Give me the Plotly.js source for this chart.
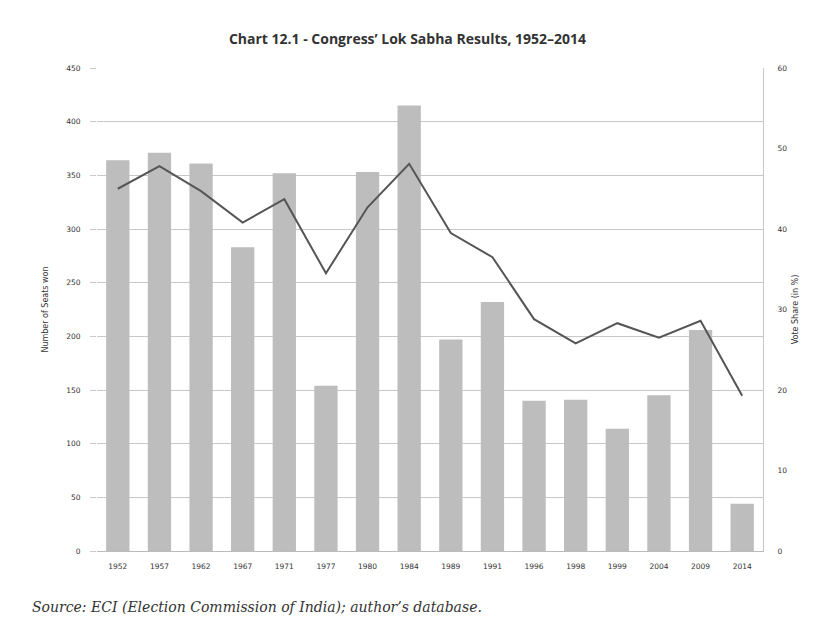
<!DOCTYPE html>
<html>
<head>
<meta charset="utf-8">
<script src="https://cdn.plot.ly/plotly-3.0.1.min.js"></script>
<style>
html,body{margin:0;padding:0;background:#fff;}
#chart{width:815px;height:644px;}
</style>
</head>
<body>
<div id="chart"></div>
<script>
const years = ["1952","1957","1962","1967","1971","1977","1980","1984","1989","1991","1996","1998","1999","2004","2009","2014"];
const seatsWon = [364, 371, 361, 283, 352, 154, 353, 415, 197, 232, 140, 141, 114, 145, 206, 44];
const voteShare = [45.0, 47.8, 44.7, 40.8, 43.7, 34.5, 42.7, 48.1, 39.5, 36.5, 28.8, 25.8, 28.3, 26.5, 28.6, 19.3];
const seatTicks = [0,50,100,150,200,250,300,350,400,450];
const voteTicks = [0,10,20,30,40,50,60];

const traces = [
  {
    type: "bar", x: years, y: seatsWon, name: "Seats",
    marker: {color: "#bdbdbd"}, yaxis: "y", hoverinfo: "x+y"
  },
  {
    type: "scatter", mode: "lines", x: years, y: voteShare, name: "Vote share",
    line: {color: "#555555", width: 2}, yaxis: "y2"
  }
];

const tickFont = {family: "DejaVu Sans", size: 7.5, color: "#333"};
const layout = {
  width: 815, height: 644,
  paper_bgcolor: "#ffffff", plot_bgcolor: "#ffffff",
  margin: {l: 97, r: 52, t: 68, b: 93},
  showlegend: false,
  bargap: 0.44,
  title: {
    text: "<b>Chart 12.1 - Congress’ Lok Sabha Results, 1952–2014</b>",
    font: {family: "Open Sans", size: 14, color: "#333"},
    x: 0.5, xanchor: "center", y: 0.94, yanchor: "middle"
  },
  xaxis: {
    type: "category", tickfont: tickFont, showgrid: false,
    showline: true, linecolor: "#bbb", linewidth: 1, ticks: "", ticklen: 0,
    tickangle: 0, ticklabelstandoff: 8
  },
  yaxis: {
    range: [0, 450], tickvals: seatTicks, ticktext: seatTicks.map(String),
    tickfont: tickFont, showgrid: true, gridcolor: "#c8c8c8", gridwidth: 1,
    ticks: "outside", ticklen: 6, tickcolor: "#c8c8c8", zeroline: false,
    showline: false, ticklabelstandoff: 8,
    title: {text: "Number of Seats won", font: {family: "DejaVu Sans", size: 8, color: "#333"}, standoff: 16}
  },
  yaxis2: {
    overlaying: "y", side: "right", range: [0, 60], tickvals: voteTicks,
    tickfont: tickFont, showgrid: false, zeroline: false,
    showline: true, linecolor: "#c8c8c8", linewidth: 1,
    ticks: "", ticklabelstandoff: 12,
    title: {text: "Vote Share (in %)", font: {family: "DejaVu Sans", size: 8, color: "#333"}, standoff: 6}
  },
  annotations: [
    {
      text: "<i>Source: ECI (Election Commission of India); author’s database.</i>",
      xref: "paper", yref: "paper", x: -0.1006, y: -0.115, xanchor: "left", yanchor: "middle",
      showarrow: false,
      font: {family: "DejaVu Serif", size: 14, color: "#333"}
    }
  ]
};

Plotly.newPlot("chart", traces, layout, {displayModeBar: false, staticPlot: true});
</script>
</body>
</html>
